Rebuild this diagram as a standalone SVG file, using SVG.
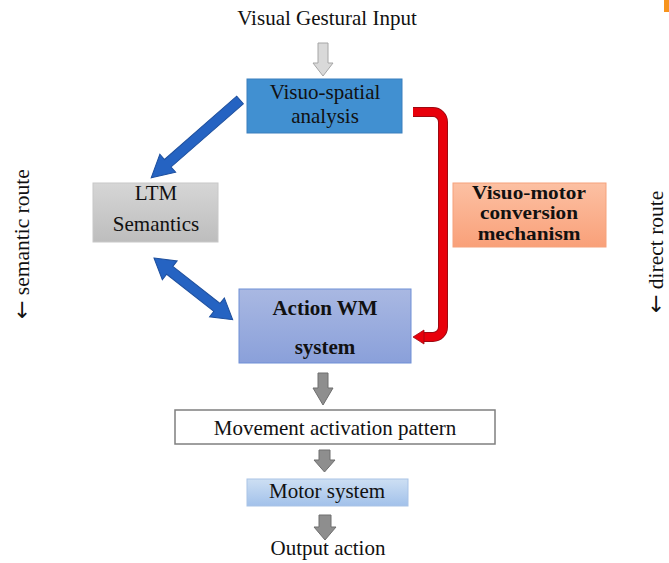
<svg xmlns="http://www.w3.org/2000/svg" width="669" height="563" viewBox="0 0 669 563">
<defs>
<linearGradient id="gGray" x1="0" y1="0" x2="0" y2="1"><stop offset="0" stop-color="#d6d6d6"/><stop offset="1" stop-color="#bdbdbd"/></linearGradient>
<linearGradient id="gWM" x1="0" y1="0" x2="0" y2="1"><stop offset="0" stop-color="#a9b8e2"/><stop offset="1" stop-color="#8aa0da"/></linearGradient>
<linearGradient id="gOr" x1="0" y1="0" x2="0" y2="1"><stop offset="0" stop-color="#fcc0a3"/><stop offset="1" stop-color="#f9a079"/></linearGradient>
<linearGradient id="gMot" x1="0" y1="0" x2="0" y2="1"><stop offset="0" stop-color="#cddff3"/><stop offset="1" stop-color="#a2c1ea"/></linearGradient>
</defs>
<style>
text{font-family:"Liberation Serif","Times New Roman",serif;fill:#111;}
.t{font-size:21px;text-anchor:middle;}
.b{font-weight:bold;}
.r{font-size:21.5px;}
.ar{font-family:"DejaVu Sans",sans-serif;font-size:22px;}
.blue{fill:#2563c2;stroke:#1d4f9e;stroke-width:1;}
.gar{fill:#8e8e8e;stroke:#6e6e6e;stroke-width:1;}
</style>
<rect x="664" y="0" width="5" height="12" fill="#f7941d"/>
<g id="connectors">
<polygon points="318,43 328,43 328,63 333,63 323,76 313,63 318,63" fill="#d9d9d9" stroke="#a6a6a6" stroke-width="1"/>
<g transform="translate(240,100) rotate(138.8)"><polygon class="blue" points="0,-5 96,-5 96,-12 118,0 96,12 96,5 0,5"/></g>
<g transform="translate(154,258) rotate(38.1)"><polygon class="blue" points="0,0 20,-12 20,-5 80,-5 80,-12 100,0 80,12 80,5 20,5 20,12"/></g>
<path d="M413,112 H433 a10,10 0 0 1 10,10 V327 a10,10 0 0 1 -10,10 H421" fill="none" stroke="#9c0a12" stroke-width="10"/>
<path d="M413,112 H433 a10,10 0 0 1 10,10 V327 a10,10 0 0 1 -10,10 H421" fill="none" stroke="#e8000b" stroke-width="8"/>
<polygon points="413,337 424,330 424,344" fill="#e8000b" stroke="#9c0a12" stroke-width="0.8"/>
<polygon class="gar" points="318,373 328,373 328,388 333,388 323,405 313,388 318,388"/>
<polygon class="gar" points="319,450 330,450 330,460 335,460 324.5,472 314,460 319,460"/>
<polygon class="gar" points="319,515 331,515 331,527 336,527 325,540 314,527 319,527"/>
</g>
<g id="input"><text class="t" x="327" y="25">Visual Gestural Input</text></g>
<g id="visuospatial">
<rect x="247" y="79" width="155" height="54" fill="#4190d1" stroke="#3a7fbd" stroke-width="1"/>
<text class="t" x="325" y="99">Visuo-spatial</text>
<text class="t" x="325" y="123">analysis</text>
</g>
<g id="ltm">
<rect x="93" y="183" width="125" height="59" fill="url(#gGray)" stroke="#c8c8c8" stroke-width="1"/>
<text class="t" x="156" y="200">LTM</text>
<text class="t" x="156" y="231">Semantics</text>
</g>
<g id="visuomotor">
<rect x="453" y="183" width="153" height="64" fill="url(#gOr)" stroke="#f5a27d" stroke-width="1"/>
<text class="t b" transform="translate(529,0) scale(1.15,1)" x="0" y="199" style="font-size:18.5px"><tspan x="0">Visuo-motor</tspan><tspan x="0" dy="20.5">conversion</tspan><tspan x="0" dy="20.5">mechanism</tspan></text>
</g>
<g id="actionwm">
<rect x="239" y="289" width="172" height="74" fill="url(#gWM)" stroke="#6f8fd6" stroke-width="1"/>
<text class="t b" x="325" y="315">Action WM</text>
<text class="t b" x="325" y="354">system</text>
</g>
<g id="movement">
<rect x="175" y="410" width="320" height="34" fill="#ffffff" stroke="#7f7f7f" stroke-width="1.5"/>
<text class="t" x="335" y="435">Movement activation pattern</text>
</g>
<g id="motor">
<rect x="247" y="479" width="161" height="27" fill="url(#gMot)" stroke="#a9c3e6" stroke-width="1"/>
<text class="t" x="327" y="498">Motor system</text>
</g>
<g id="output"><text class="t" x="328" y="555">Output action</text></g>
<g id="labels">
<text class="r" transform="translate(29,319) rotate(-90)"><tspan class="ar">←</tspan>  semantic route</text>
<text class="r" transform="translate(663,313) rotate(-90)"><tspan class="ar">←</tspan>  direct route</text>
</g>
</svg>
